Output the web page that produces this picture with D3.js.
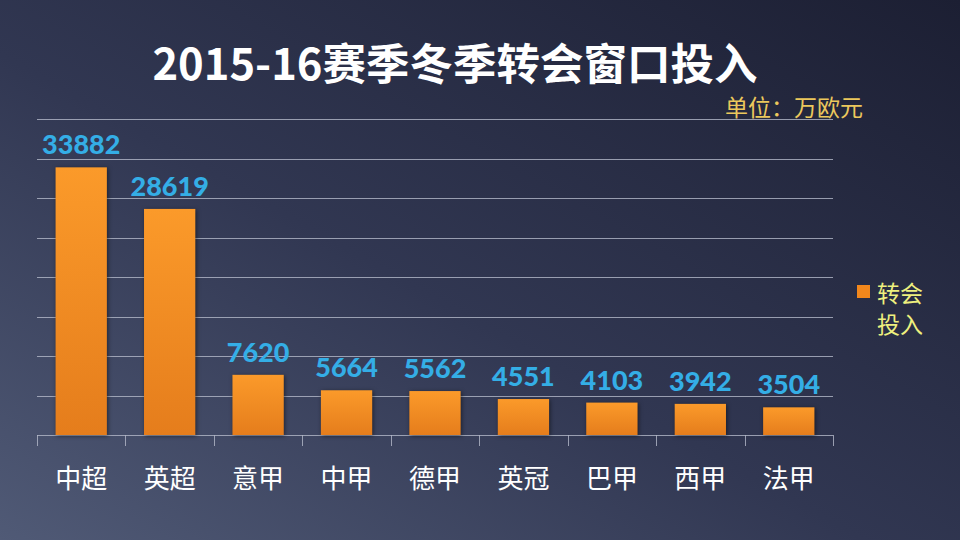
<!DOCTYPE html>
<html><head><meta charset="utf-8">
<script src="https://cdn.jsdelivr.net/npm/d3@7"></script>
<style>html,body{margin:0;padding:0;background:#262b40;}svg{display:block;}</style>
</head><body>
<svg id="c" width="960" height="540"></svg>
<script>
const categories = ["中超","英超","意甲","中甲","德甲","英冠","巴甲","西甲","法甲"];
const values = [33882,28619,7620,5664,5562,4551,4103,3942,3504];
const yTicks = [0,5000,10000,15000,20000,25000,30000,35000,40000];
const title = "2015-16赛季冬季转会窗口投入";
const unitLabel = "单位：万欧元";
const legendLines = ["转会","投入"];

(function(){
const svg = d3.select("#c");
const W = 960, H = 540;
const defs = svg.append("defs");

const bg = defs.append("linearGradient").attr("id","bg").attr("x1","0").attr("y1","1").attr("x2","1").attr("y2","0");
bg.append("stop").attr("offset","0").attr("stop-color","#505a76");
bg.append("stop").attr("offset","0.45").attr("stop-color","#313752");
bg.append("stop").attr("offset","1").attr("stop-color","#1c1f33");
svg.append("rect").attr("width",W).attr("height",H).attr("fill","url(#bg)");

const bar = defs.append("linearGradient").attr("id","bar").attr("x1","0").attr("y1","0").attr("x2","0").attr("y2","1");
bar.append("stop").attr("offset","0").attr("stop-color","#fb9a2a");
bar.append("stop").attr("offset","1").attr("stop-color","#e57d1c");

const pl = 37, pr = 833, pt = 119, pb = 435;
const x = d3.scaleBand().domain(categories).range([pl,pr]).paddingInner(0.42).paddingOuter(0.21);
const y = d3.scaleLinear().domain([0,40000]).range([pb,pt]);

svg.append("g").selectAll("line").data(yTicks).join("line")
  .attr("x1",pl).attr("x2",pr)
  .attr("y1",d=>Math.round(y(d))+0.5).attr("y2",d=>Math.round(y(d))+0.5)
  .attr("stroke","#b4b9c9").attr("stroke-opacity",0.8).attr("stroke-width",1);

const xb = d3.scaleBand().domain(categories).range([pl,pr]);
const bounds = categories.map(c=>xb(c)).concat([pr]);
svg.append("g").selectAll("line").data(bounds).join("line")
  .attr("x1",d=>Math.round(d)+0.5).attr("x2",d=>Math.round(d)+0.5)
  .attr("y1",pb).attr("y2",pb+11)
  .attr("stroke","#b4b9c9").attr("stroke-opacity",0.8);

svg.append("g").selectAll("rect").data(values).join("rect")
  .attr("x",(d,i)=>x(categories[i]))
  .attr("width",x.bandwidth())
  .attr("y",d=>y(d))
  .attr("height",d=>pb-y(d))
  .attr("fill","url(#bar)")
  .style("filter","drop-shadow(1px 1px 2px rgba(0,0,0,0.5))");

svg.append("g").selectAll("text").data(values).join("text")
  .attr("x",(d,i)=>x(categories[i])+x.bandwidth()/2)
  .attr("y",d=>y(d)-13)
  .attr("text-anchor","middle")
  .attr("font-family","Lato, 'Open Sans', sans-serif")
  .attr("font-weight",900)
  .attr("font-size",27)
  .attr("fill","#34aee6")
  .text(d=>d);

svg.append("g").selectAll("text").data(categories).join("text")
  .attr("x",d=>xb(d)+xb.bandwidth()/2)
  .attr("y",488)
  .attr("text-anchor","middle")
  .attr("font-family","'Noto Sans CJK SC', sans-serif")
  .attr("font-size",26)
  .attr("fill","#ffffff")
  .text(d=>d);

svg.append("text").attr("x",455).attr("y",80).attr("text-anchor","middle")
  .attr("font-family","'Noto Sans CJK SC', sans-serif").attr("font-weight","bold")
  .attr("font-size",43.5).attr("fill","#ffffff").text(title);

svg.append("text").attr("x",863).attr("y",116).attr("text-anchor","end")
  .attr("font-family","'Noto Sans CJK SC', sans-serif")
  .attr("font-size",23).attr("fill","#ecc85c").text(unitLabel);

svg.append("rect").attr("x",857).attr("y",285).attr("width",13).attr("height",13).attr("fill","#f2871c");
svg.append("g").selectAll("text").data(legendLines).join("text")
  .attr("x",877).attr("y",(d,i)=>302+i*31)
  .attr("font-family","'Noto Sans CJK SC', sans-serif")
  .attr("font-size",23).attr("fill","#eef07e").text(d=>d);
})();
</script>
</body></html>
